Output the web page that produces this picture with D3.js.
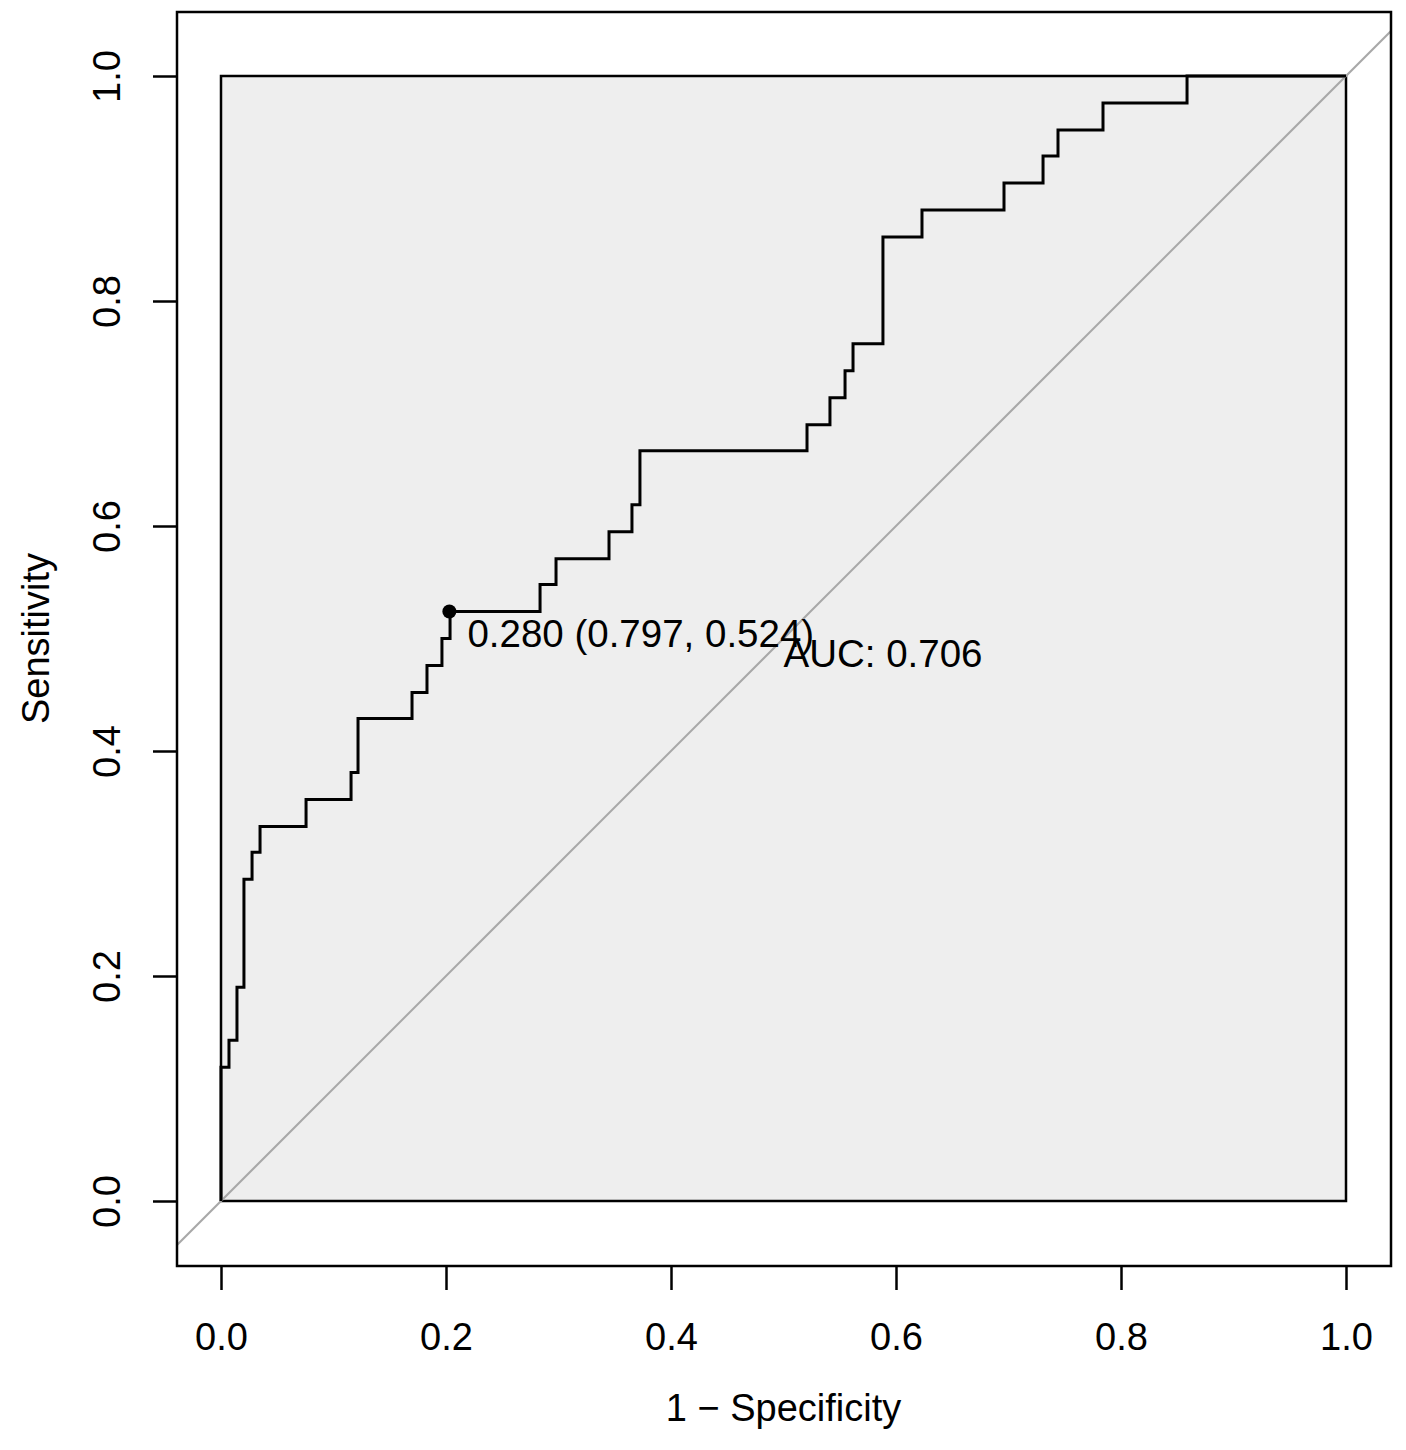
<!DOCTYPE html>
<html>
<head>
<meta charset="utf-8">
<script src="https://cdn.jsdelivr.net/npm/d3@7"></script>
<style>
  body { margin: 0; background: #ffffff; }
  svg { display: block; }
  text { font-family: "Liberation Sans", Arial, sans-serif; fill: #000; }
</style>
</head>
<body>
<svg id="mySvg" width="1406" height="1450"></svg>
<script>
// ROC corner points (1 - specificity, sensitivity)
var fpr = [0, 0, 0.0071, 0.0142, 0.0204, 0.0276, 0.0347, 0.0756, 0.1156, 0.1218,
  0.1698, 0.1831, 0.1964, 0.2036, 0.2836, 0.2978, 0.3449, 0.3653, 0.3724, 0.5209,
  0.5413, 0.5547, 0.5618, 0.5884, 0.6231, 0.6960, 0.7307, 0.7440, 0.7840, 0.8587, 1.0];
var sens = [0, 0.119, 0.143, 0.190, 0.286, 0.310, 0.333, 0.357, 0.381, 0.429,
  0.452, 0.476, 0.500, 0.524, 0.548, 0.571, 0.595, 0.619, 0.667, 0.690,
  0.714, 0.738, 0.762, 0.857, 0.881, 0.905, 0.929, 0.952, 0.976, 1.0, 1.0];

// best threshold and AUC
var bestPoint = [0.203, 0.524];
var bestLabel = "0.280 (0.797, 0.524)";
var aucLabel = "AUC: 0.706";

var tickValues = [0, 0.2, 0.4, 0.6, 0.8, 1.0];
var xTitle = "1 \u2212 Specificity";
var yTitle = "Sensitivity";

var svgContainer = d3.select("#mySvg");

// inner (unit square) and outer plot region
var x = d3.scaleLinear().domain([0, 1]).range([221, 1346]);
var y = d3.scaleLinear().domain([0, 1]).range([1201, 76]);
var outer = { left: 177, right: 1391, top: 12, bottom: 1266 };

svgContainer.append("clipPath").attr("id", "plotClip")
  .append("rect")
  .attr("x", outer.left)
  .attr("y", outer.top)
  .attr("width", outer.right - outer.left)
  .attr("height", outer.bottom - outer.top);

// grey unit square
svgContainer.append("rect")
  .attr("x", x(0))
  .attr("y", y(1))
  .attr("width", x(1) - x(0))
  .attr("height", y(0) - y(1))
  .attr("fill", "#eeeeee")
  .attr("stroke", "#000")
  .attr("stroke-width", 2.5);

// chance diagonal
svgContainer.append("line")
  .attr("clip-path", "url(#plotClip)")
  .attr("x1", x(-0.2)).attr("y1", y(-0.2))
  .attr("x2", x(1.2)).attr("y2", y(1.2))
  .attr("stroke", "#a8a8a8")
  .attr("stroke-width", 2);

// ROC step curve
var line = d3.line()
  .x(function(d) { return x(d[0]); })
  .y(function(d) { return y(d[1]); })
  .curve(d3.curveStepAfter);

svgContainer.append("path")
  .datum(d3.zip(fpr, sens))
  .attr("d", line)
  .attr("fill", "none")
  .attr("stroke", "#000")
  .attr("stroke-width", 3);

// best threshold point
svgContainer.append("circle")
  .attr("cx", x(bestPoint[0]))
  .attr("cy", y(bestPoint[1]))
  .attr("r", 7)
  .attr("fill", "#000");

svgContainer.append("text")
  .attr("x", x(bestPoint[0]) + 18)
  .attr("y", y(bestPoint[1]) + 35)
  .attr("font-size", 38.5)
  .text(bestLabel);

svgContainer.append("text")
  .attr("x", x(0.5))
  .attr("y", y(0.5) + 28)
  .attr("font-size", 38.5)
  .text(aucLabel);

// outer box
svgContainer.append("rect")
  .attr("x", outer.left)
  .attr("y", outer.top)
  .attr("width", outer.right - outer.left)
  .attr("height", outer.bottom - outer.top)
  .attr("fill", "none")
  .attr("stroke", "#000")
  .attr("stroke-width", 2.5);

// x axis
var xAxis = svgContainer.append("g")
  .attr("transform", "translate(0," + outer.bottom + ")")
  .call(d3.axisBottom(x).tickValues(tickValues).tickSize(24).tickPadding(33)
    .tickFormat(d3.format(".1f")));
xAxis.select(".domain").remove();
xAxis.selectAll(".tick line").attr("stroke", "#000").attr("stroke-width", 2.5);
xAxis.selectAll(".tick text").attr("font-size", 38).attr("font-family", null);

// y axis, labels turned like base R
var yAxis = svgContainer.append("g")
  .attr("transform", "translate(" + outer.left + ",0)")
  .call(d3.axisLeft(y).tickValues(tickValues).tickSize(24)
    .tickFormat(d3.format(".1f")));
yAxis.select(".domain").remove();
yAxis.selectAll(".tick line").attr("stroke", "#000").attr("stroke-width", 2.5);
yAxis.selectAll(".tick text")
  .attr("font-size", 38)
  .attr("font-family", null)
  .attr("transform", "rotate(-90)")
  .attr("x", 0)
  .attr("y", -57)
  .attr("dy", null)
  .attr("text-anchor", "middle");

// axis titles
svgContainer.append("text")
  .attr("x", (x(0) + x(1)) / 2)
  .attr("y", 1421)
  .attr("text-anchor", "middle")
  .attr("font-size", 38)
  .text(xTitle);

svgContainer.append("text")
  .attr("transform", "translate(49," + (y(0) + y(1)) / 2 + ") rotate(-90)")
  .attr("text-anchor", "middle")
  .attr("font-size", 38)
  .text(yTitle);
</script>
</body>
</html>
